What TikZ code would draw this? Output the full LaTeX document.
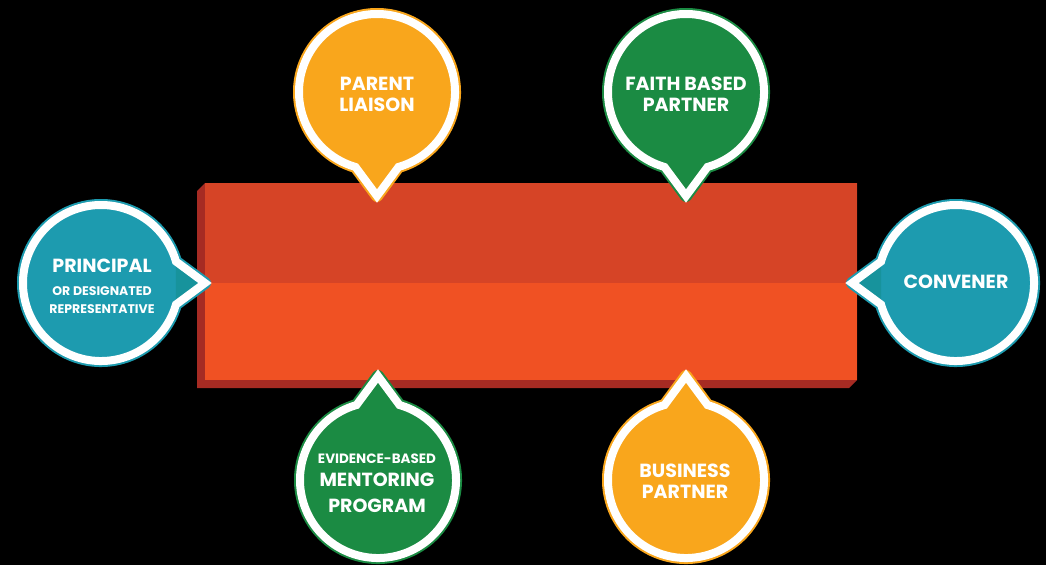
\documentclass[tikz,border=0pt]{standalone}
\usepackage{fontspec}
\setmainfont{Poppins}
\definecolor{tealc}{HTML}{1D9BAF}
\definecolor{tealp}{HTML}{17939C}
\definecolor{orangec}{HTML}{F9A61C}
\definecolor{greenc}{HTML}{1B8B43}
\definecolor{boxtop}{HTML}{D64426}
\definecolor{boxbot}{HTML}{F05123}
\definecolor{boxside}{HTML}{A62B23}
\tikzset{
  lbl/.style={text=white, anchor=base, inner sep=0pt},
  big/.style={lbl, font=\bfseries\fontsize{19}{19}\selectfont},
  small/.style={lbl, font=\bfseries\fontsize{12.5}{12.5}\selectfont},
  mid/.style={lbl, font=\bfseries\fontsize{13.5}{13.5}\selectfont},
}
% #1 name, #2 centre, #3 rotation, #4 colour, #5 pointer colour
\newcommand\callout[5]{%
  \coordinate (#1) at #2;
  \begin{scope}[shift={(#1)}, rotate=#3]
    \draw[#4, line width=12pt, line join=round]
      (16:78pt) arc[start angle=16, end angle=344, radius=78pt] -- (0:104pt) -- cycle;
    \fill[#4]
      (16:78pt) arc[start angle=16, end angle=344, radius=78pt] -- (0:104pt) -- cycle;
    \fill[#5] (16:78pt) -- (0:104pt) -- (-16:78pt) -- cycle;
    \draw[white, line width=8pt, line join=miter]
      (16:78pt) arc[start angle=16, end angle=344, radius=78pt] -- (0:104pt) -- cycle;
  \end{scope}}
\begin{document}
\begin{tikzpicture}[x=1pt,y=-1pt]
\fill[black] (0,0) rectangle (1046,565);
\useasboundingbox (0,0) rectangle (1046,565);
% central block
\fill[boxside] (197,191) -- (205,183) -- (857,183) -- (857,380) -- (849,388) -- (197,388) -- cycle;
\fill[boxtop] (205,183) rectangle (857,283);
\fill[boxbot] (205,283) rectangle (857,380);
\coordinate (block) at (531,283);
% callouts
\callout{principal}{(101,283)}{0}{tealc}{tealp}
\callout{parent}{(377,92)}{-90}{orangec}{orangec}
\callout{faith}{(686,92)}{-90}{greenc}{greenc}
\callout{convener}{(956,283)}{180}{tealc}{tealp}
\callout{evidence}{(378,480)}{90}{greenc}{greenc}
\callout{business}{(686,480)}{90}{orangec}{orangec}
% labels
\node[big]   (principal-1) at (102,272) {PRINCIPAL};
\node[small] (principal-2) at (102,295) {OR DESIGNATED};
\node[small] (principal-3) at (102,313) {REPRESENTATIVE};
\node[big]   (parent-1) at (377,90) {PARENT};
\node[big]   (parent-2) at (377,111) {LIAISON};
\node[big]   (faith-1) at (686,90) {FAITH BASED};
\node[big]   (faith-2) at (686,111) {PARTNER};
\node[big]   (convener-1) at (956,288) {CONVENER};
\node[mid]   (evidence-1) at (377,463) {EVIDENCE-BASED};
\node[big]   (evidence-2) at (377,486) {MENTORING};
\node[big]   (evidence-3) at (377,512) {PROGRAM};
\node[big]   (business-1) at (685,477) {BUSINESS};
\node[big]   (business-2) at (685,498) {PARTNER};
\end{tikzpicture}
\end{document}
